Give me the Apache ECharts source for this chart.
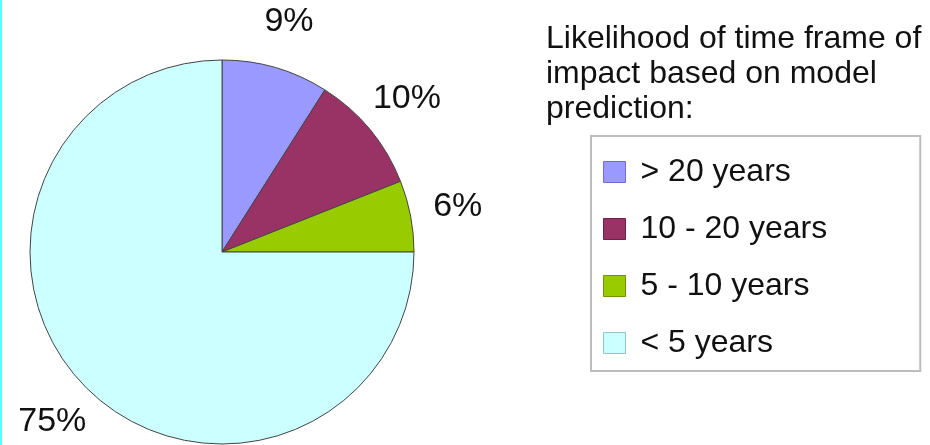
<!DOCTYPE html>
<html>
<head>
<meta charset="utf-8">
<script src="https://cdn.jsdelivr.net/npm/echarts@6/dist/echarts.min.js"></script>
<style>
  html, body { margin: 0; padding: 0; background: #ffffff; }
  #chart { width: 930px; height: 445px; }
</style>
</head>
<body>
<div id="chart"></div>
<script>
// Time frame categories and their share (%) of model predictions
const categories = ['> 20 years', '10 - 20 years', '5 - 10 years', '< 5 years'];
const shares = [9, 10, 6, 75];
const sliceColors = ['#9999ff', '#993366', '#99cc00', '#ccffff'];
const swatchBorders = ['#6f6fd0', '#6e2048', '#6f9400', '#8fc8c8'];
const titleLines = ['Likelihood of time frame of', 'impact based on model', 'prediction:'];

const chart = echarts.init(document.getElementById('chart'), null, { renderer: 'canvas' });

const FONT = '"Liberation Sans", Arial, Helvetica, sans-serif';

chart.setOption({
  backgroundColor: '#ffffff',
  animation: false,
  title: {
    text: titleLines.join('\n'),
    left: 546,
    top: 22,
    padding: 0,
    textStyle: {
      fontFamily: FONT,
      fontSize: 32,
      fontWeight: 'normal',
      color: '#111111',
      lineHeight: 35
    }
  },
  legend: {
    orient: 'vertical',
    left: 591,
    top: 136,
    padding: [20, 93, 12, 12],
    itemWidth: 22,
    itemHeight: 21,
    itemGap: 25,
    icon: 'rect',
    borderColor: '#bdbdbd',
    borderWidth: 2,
    data: categories.map((name, i) => ({
      name: name,
      itemStyle: { color: sliceColors[i], borderColor: swatchBorders[i], borderWidth: 1 }
    })),
    textStyle: {
      fontFamily: FONT,
      fontSize: 32,
      color: '#111111',
      lineHeight: 21,
      padding: [0, 0, 0, 10]
    }
  },
  graphic: [{
    type: 'rect',
    left: 0,
    top: 0,
    shape: { width: 2, height: 445 },
    style: { fill: '#55ffff' },
    silent: true
  }],
  series: [{
    type: 'pie',
    center: [222, 252],
    radius: 192,
    startAngle: 90,
    clockwise: true,
    avoidLabelOverlap: false,
    data: categories.map((name, i) => ({
      name: name,
      value: shares[i],
      itemStyle: { color: sliceColors[i] }
    })),
    itemStyle: { borderColor: '#444444', borderWidth: 1 },
    label: {
      show: true,
      position: 'outside',
      formatter: '{c}%',
      fontFamily: FONT,
      fontSize: 34,
      color: '#111111',
      distanceToLabelLine: 0
    },
    labelLine: { show: false, length: 48, length2: 0 },
    labelLayout: function () {
      return { align: 'center', verticalAlign: 'middle' };
    },
    emphasis: { disabled: true }
  }]
});
</script>
</body>
</html>
